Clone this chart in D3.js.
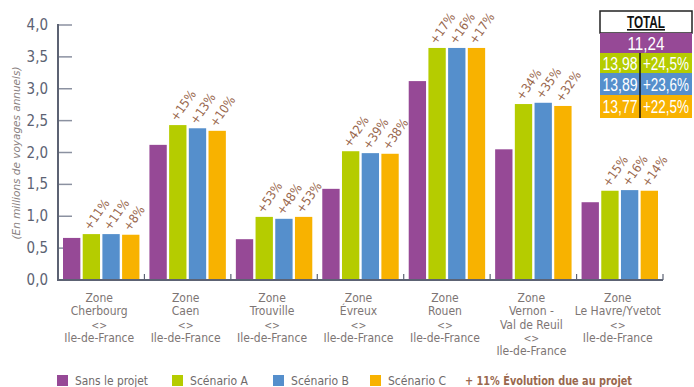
<!DOCTYPE html>
<html><head><meta charset="utf-8">
<script src="https://cdn.jsdelivr.net/npm/d3@7"></script>
<style>
body{margin:0;background:#fff;}
svg{display:block;font-family:"DejaVu Sans Condensed","DejaVu Sans",sans-serif;}
</style></head>
<body><svg id="c" width="694" height="387"></svg>
<script>
const categories = [
  ["Zone","Cherbourg","<>","Ile-de-France"],
  ["Zone","Caen","<>","Ile-de-France"],
  ["Zone","Trouville","<>","Ile-de-France"],
  ["Zone","Évreux","<>","Ile-de-France"],
  ["Zone","Rouen","<>","Ile-de-France"],
  ["Zone","Vernon -","Val de Reuil","<>","Ile-de-France"],
  ["Zone","Le Havre/Yvetot","<>","Ile-de-France"]
];
const seriesNames = ["Sans le projet","Scénario A","Scénario B","Scénario C"];
const sansProjet = [0.66, 2.12, 0.64, 1.43, 3.12, 2.05, 1.22];
const scenarioA  = [0.72, 2.43, 0.99, 2.02, 3.64, 2.76, 1.40];
const scenarioB  = [0.72, 2.38, 0.96, 1.99, 3.64, 2.78, 1.41];
const scenarioC  = [0.71, 2.34, 0.99, 1.98, 3.64, 2.73, 1.40];
const evolA = ["+11%","+15%","+53%","+42%","+17%","+34%","+15%"];
const evolB = ["+11%","+13%","+48%","+39%","+16%","+35%","+16%"];
const evolC = ["+8%","+10%","+53%","+38%","+17%","+32%","+14%"];
const yTicks = [0,0.5,1,1.5,2,2.5,3,3.5,4];
const totalValues = ["11,24","13,98","13,89","13,77"];
const totalEvol = ["","+24,5%","+23,6%","+22,5%"];
const colors = ["#964996","#b5cc00","#558fcc","#f8b200"];

const series = [sansProjet, scenarioA, scenarioB, scenarioC];
const evols = [null, evolA, evolB, evolC];
const svg = d3.select("#c");
const axisCol = "#5c6273";
const brown = "#99674d";
const labelGray = "#7d7574";

const x0 = d3.scaleBand().domain(d3.range(categories.length)).range([58, 663]);
const x1 = d3.scaleBand().domain(d3.range(4)).range([5, x0.bandwidth()-5]).paddingInner(0.12);
const y = d3.scaleLinear().domain([0,4]).range([280, 25]);

// y ticks
const gy = svg.append("g");
yTicks.forEach(t=>{
  gy.append("line").attr("x1",58).attr("x2",72).attr("y1",y(t)).attr("y2",y(t))
    .attr("stroke","#8b91a0").attr("stroke-width",1.5);
  gy.append("text").attr("x",48).attr("y",y(t)+5).attr("text-anchor","end")
    .attr("font-size",15).attr("fill",axisCol).text(d3.format(".1f")(t).replace(".",","));
});

// bars
categories.forEach((c,i)=>{
  const g = svg.append("g").attr("transform",`translate(${x0(i)},0)`);
  series.forEach((s,k)=>{
    g.append("rect").attr("x",x1(k)).attr("width",x1.bandwidth())
      .attr("y",y(s[i])).attr("height",y(0)-y(s[i])).attr("fill",colors[k]);
    if(evols[k]){
      const cx = x1(k)+x1.bandwidth()/2 - 1, cy = y(s[i]) - 3;
      g.append("text").attr("transform",`translate(${cx},${cy}) rotate(-55)`)
        .attr("font-size",12.5).attr("fill",brown).text(evols[k][i]);
    }
  });
});

// axes lines
svg.append("line").attr("x1",58).attr("x2",58).attr("y1",24).attr("y2",281).attr("stroke",axisCol).attr("stroke-width",2);
svg.append("line").attr("x1",57).attr("x2",663).attr("y1",280).attr("y2",280).attr("stroke",axisCol).attr("stroke-width",2);
d3.range(1,categories.length+1).forEach(i=>{
  const xx = i<categories.length ? x0(i) : 663;
  svg.append("line").attr("x1",xx).attr("x2",xx).attr("y1",274).attr("y2",280).attr("stroke",axisCol).attr("stroke-width",1.2);
});

// category labels
categories.forEach((c,i)=>{
  const cx = x0(i)+x0.bandwidth()/2-2;
  const t = svg.append("text").attr("x",cx).attr("y",302)
    .attr("text-anchor","middle").attr("font-size",12).attr("fill",labelGray);
  c.forEach((l,j)=>{
    t.append("tspan").attr("x",cx).attr("dy", j===0?0:13.3)
      .attr("font-size", l==="<>"?10.5:12).text(l);
  });
});

// y title
svg.append("text").attr("transform","translate(20,153) rotate(-90)").attr("text-anchor","middle")
  .attr("font-size",11).attr("font-style","italic").attr("fill","#8a817f")
  .attr("textLength",173).attr("lengthAdjust","spacingAndGlyphs")
  .text("(En millions de voyages annuels)");

// legend
const legX = [57,172,273,370];
const legW = [73,58,58,58];
seriesNames.forEach((n,k)=>{
  svg.append("rect").attr("x",legX[k]).attr("y",375).attr("width",11).attr("height",11).attr("fill",colors[k]);
  svg.append("text").attr("x",legX[k]+18).attr("y",385).attr("font-size",13)
    .attr("textLength",legW[k]).attr("lengthAdjust","spacingAndGlyphs").attr("fill","#6f6a6a").text(n);
});
svg.append("text").attr("x",465).attr("y",385).attr("font-size",13).attr("font-weight","bold").attr("fill",brown)
  .attr("textLength",167).attr("lengthAdjust","spacingAndGlyphs")
  .text("+ 11% Évolution due au projet");

// total table
const tx = 600, tw = 92, tdiv = 640;
const rowY = [33,53,73,95,118];
const tfont = "'Liberation Sans','DejaVu Sans',sans-serif";
svg.append("rect").attr("x",tx).attr("y",11).attr("width",tw).attr("height",22).attr("fill","#fff").attr("stroke","#222").attr("stroke-width",1.5);
svg.append("text").attr("x",tx+tw/2).attr("y",28).attr("text-anchor","middle").attr("font-size",16)
  .attr("font-family",tfont).attr("textLength",38).attr("lengthAdjust","spacingAndGlyphs")
  .attr("font-weight","bold").attr("text-decoration","underline").attr("fill","#111").text("TOTAL");
totalValues.forEach((v,k)=>{
  svg.append("rect").attr("x",tx).attr("y",rowY[k]).attr("width",tw).attr("height",rowY[k+1]-rowY[k]).attr("fill",colors[k]);
  const my = (rowY[k]+rowY[k+1])/2 + 6.5;
  if(k===0){
    svg.append("text").attr("x",tx+tw/2).attr("y",my).attr("text-anchor","middle").attr("font-size",18)
      .attr("font-family",tfont).attr("textLength",37).attr("lengthAdjust","spacingAndGlyphs").attr("fill","#fff").text(v);
  } else {
    svg.append("text").attr("x",(tx+tdiv)/2).attr("y",my).attr("text-anchor","middle").attr("font-size",18)
      .attr("font-family",tfont).attr("textLength",35).attr("lengthAdjust","spacingAndGlyphs").attr("fill","#fff").text(v);
    svg.append("text").attr("transform",`translate(${(tdiv+tx+tw)/2},${my}) scale(0.75,1)`)
      .attr("text-anchor","middle").attr("font-size",18)
      .attr("font-family",tfont).attr("fill","#fff").text(totalEvol[k]);
  }
});
svg.append("line").attr("x1",tdiv).attr("x2",tdiv).attr("y1",53).attr("y2",118).attr("stroke","#111").attr("stroke-width",1.5);
</script></body></html>
